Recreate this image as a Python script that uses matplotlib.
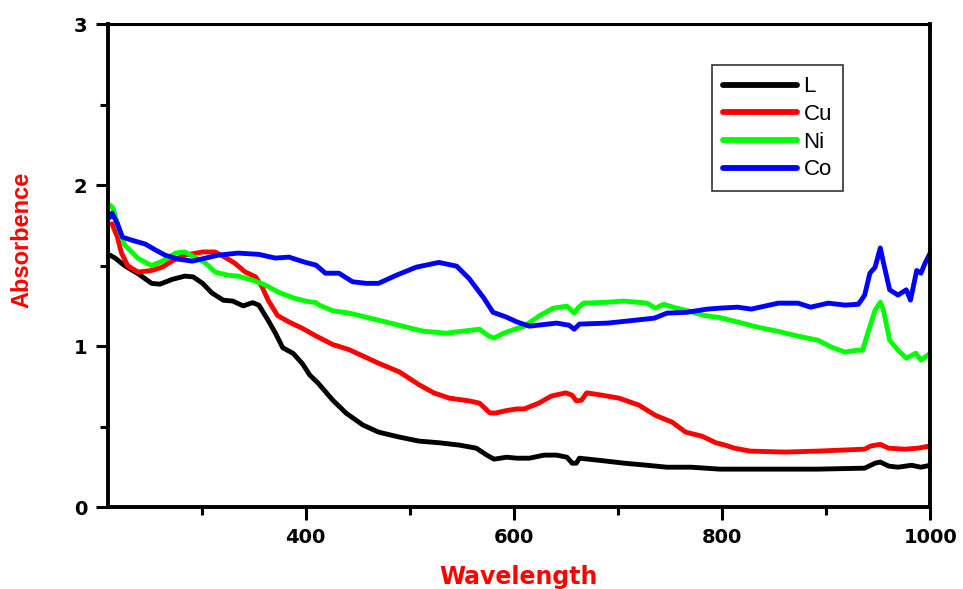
import matplotlib
matplotlib.use("Agg")
import matplotlib.pyplot as plt
from matplotlib.ticker import MultipleLocator, FixedLocator

# UV-Vis absorbance spectra of the ligand (L) and its Cu, Ni, Co complexes
wl_L = [212, 217, 226, 239, 252, 260, 272, 284, 292, 301, 310, 321, 330, 340, 349, 355,
        364, 371, 378, 388, 397, 404, 412, 426, 439, 455, 470, 490, 509, 528, 548, 564,
        574, 581, 593, 603, 615, 629, 641, 651, 656, 660, 663, 683, 706, 728, 747, 770,
        798, 844, 892, 937, 947, 952, 960, 969, 982, 991, 1000]
abs_L = [1.565, 1.547, 1.50, 1.45, 1.39, 1.385, 1.415, 1.435, 1.43, 1.39, 1.33, 1.285,
         1.28, 1.25, 1.27, 1.255, 1.16, 1.08, 0.99, 0.955, 0.89, 0.82, 0.77, 0.665, 0.583,
         0.51, 0.466, 0.435, 0.41, 0.40, 0.385, 0.366, 0.323, 0.298, 0.31, 0.304, 0.304,
         0.323, 0.323, 0.31, 0.273, 0.273, 0.304, 0.29, 0.273, 0.26, 0.248, 0.248, 0.236,
         0.236, 0.236, 0.242, 0.273, 0.28, 0.255, 0.248, 0.26, 0.248, 0.26]

wl_Cu = [214, 219, 223, 229, 239, 252, 262, 272, 284, 301, 313, 323, 332, 342, 352, 358,
         364, 373, 384, 397, 408, 412, 426, 441, 458, 470, 490, 509, 523, 538, 557, 567,
         577, 583, 593, 603, 610, 624, 636, 650, 656, 660, 665, 670, 685, 701, 720, 736,
         752, 765, 781, 794, 803, 812, 827, 860, 892, 937, 943, 952, 960, 976, 988, 1000]
abs_Cu = [1.76, 1.68, 1.58, 1.50, 1.46, 1.47, 1.49, 1.53, 1.565, 1.585, 1.585, 1.55, 1.515,
          1.46, 1.43, 1.37, 1.285, 1.19, 1.15, 1.11, 1.07, 1.056, 1.01, 0.98, 0.93, 0.894,
          0.84, 0.76, 0.71, 0.677, 0.66, 0.646, 0.585, 0.585, 0.60, 0.61, 0.61, 0.646, 0.69,
          0.71, 0.695, 0.66, 0.664, 0.71, 0.695, 0.677, 0.634, 0.57, 0.528, 0.466, 0.44,
          0.40, 0.385, 0.366, 0.348, 0.342, 0.348, 0.36, 0.38, 0.39, 0.366, 0.36, 0.366, 0.38]

wl_Ni = [212, 215, 220, 226, 239, 252, 263, 275, 284, 294, 304, 313, 326, 335, 349, 361,
         374, 388, 400, 410, 413, 426, 442, 458, 477, 497, 513, 535, 551, 567, 576, 581,
         590, 603, 609, 625, 638, 651, 658, 662, 667, 690, 706, 728, 736, 744, 754, 767,
         783, 796, 815, 834, 853, 873, 892, 905, 918, 930, 935, 940, 947, 952, 955, 961,
         969, 977, 986, 991, 1000]
abs_Ni = [1.876, 1.857, 1.74, 1.63, 1.545, 1.50, 1.53, 1.578, 1.585, 1.55, 1.515, 1.46,
          1.44, 1.435, 1.41, 1.38, 1.335, 1.30, 1.28, 1.27, 1.255, 1.22, 1.205, 1.18, 1.15,
          1.118, 1.093, 1.08, 1.093, 1.105, 1.062, 1.05, 1.08, 1.11, 1.12, 1.19, 1.236,
          1.248, 1.205, 1.24, 1.267, 1.273, 1.28, 1.267, 1.236, 1.26, 1.24, 1.22, 1.19,
          1.18, 1.15, 1.118, 1.093, 1.062, 1.037, 0.994, 0.963, 0.975, 0.975, 1.08, 1.224,
          1.273, 1.224, 1.037, 0.975, 0.925, 0.956, 0.913, 0.956]

wl_Co = [212, 214, 219, 224, 233, 246, 255, 265, 278, 291, 304, 316, 335, 355, 371, 384,
         393, 400, 410, 419, 432, 445, 458, 470, 487, 506, 528, 545, 557, 571, 580, 593,
         603, 615, 641, 653, 658, 663, 690, 715, 735, 747, 766, 786, 798, 815, 828, 854,
         873, 885, 902, 918, 931, 937, 942, 947, 952, 955, 961, 969, 977, 981, 987, 991,
         995, 1000]
abs_Co = [1.80, 1.826, 1.764, 1.677, 1.658, 1.634, 1.60, 1.565, 1.54, 1.528, 1.547, 1.565,
          1.578, 1.57, 1.547, 1.553, 1.534, 1.52, 1.503, 1.453, 1.453, 1.40, 1.39, 1.39,
          1.44, 1.49, 1.52, 1.497, 1.42, 1.30, 1.21, 1.18, 1.15, 1.124, 1.143, 1.13, 1.105,
          1.137, 1.143, 1.16, 1.174, 1.205, 1.21, 1.23, 1.236, 1.242, 1.23, 1.267, 1.267,
          1.242, 1.267, 1.255, 1.26, 1.317, 1.453, 1.49, 1.61, 1.52, 1.35, 1.317, 1.35,
          1.286, 1.47, 1.453, 1.515, 1.58]

series_names = ["L", "Cu", "Ni", "Co"]
series_colors = ["#000000", "#ff0000", "#00ff00", "#0000ff"]
x_tick_labels = ["400", "600", "800", "1000"]
y_tick_labels = ["0", "1", "2", "3"]

plt.rcParams["font.family"] = ["Liberation Sans", "DejaVu Sans"]

fig = plt.figure(figsize=(9.63, 5.89), dpi=100)
ax = fig.add_axes([0.112, 0.139, 0.854, 0.820])

for wl, ab, name, col in zip([wl_L, wl_Cu, wl_Ni, wl_Co], [abs_L, abs_Cu, abs_Ni, abs_Co],
                             series_names, series_colors):
    ax.plot(wl, ab, color=col, lw=3.5, label=name, solid_capstyle="round",
            solid_joinstyle="round")

ax.set_xlim(210, 1000)
ax.set_ylim(0, 3)

ax.xaxis.set_major_locator(FixedLocator([400, 600, 800, 1000]))
ax.xaxis.set_minor_locator(MultipleLocator(100))
ax.yaxis.set_major_locator(FixedLocator([0, 1, 2, 3]))
ax.yaxis.set_minor_locator(MultipleLocator(0.5))
ax.set_xticklabels(x_tick_labels)
ax.set_yticklabels(y_tick_labels)

ax.tick_params(which="both", direction="out", top=False, right=False, width=2.2)
ax.tick_params(which="major", length=9, pad=6)
ax.tick_params(which="minor", length=5.5)
for lab in ax.get_xticklabels() + ax.get_yticklabels():
    lab.set_family("DejaVu Sans")
    lab.set_fontweight("bold")
    lab.set_fontsize(14)

for side in ["left", "bottom", "right"]:
    ax.spines[side].set_linewidth(2.8)
ax.spines["top"].set_linewidth(2.2)

ax.set_xlabel("Wavelength", color="#ff0000", fontsize=17, fontweight="bold",
              family="DejaVu Sans", va="center")
ax.xaxis.set_label_coords(0.499, -0.145)
ax.set_ylabel("Absorbence", color="#ff0000", fontsize=17, fontweight="bold", va="center")
ax.yaxis.set_label_coords(-0.105, 0.553)

leg = ax.legend(loc="upper left", bbox_to_anchor=(0.735, 0.915), fontsize=16,
                frameon=True, fancybox=False, handlelength=3.3, handletextpad=0.3,
                borderpad=0.5, labelspacing=0.3, borderaxespad=0)
leg.get_frame().set_edgecolor("#000000")
leg.get_frame().set_linewidth(1.2)
for h in leg.get_lines():
    h.set_linewidth(4.2)

fig.savefig("out.png", dpi=100)
